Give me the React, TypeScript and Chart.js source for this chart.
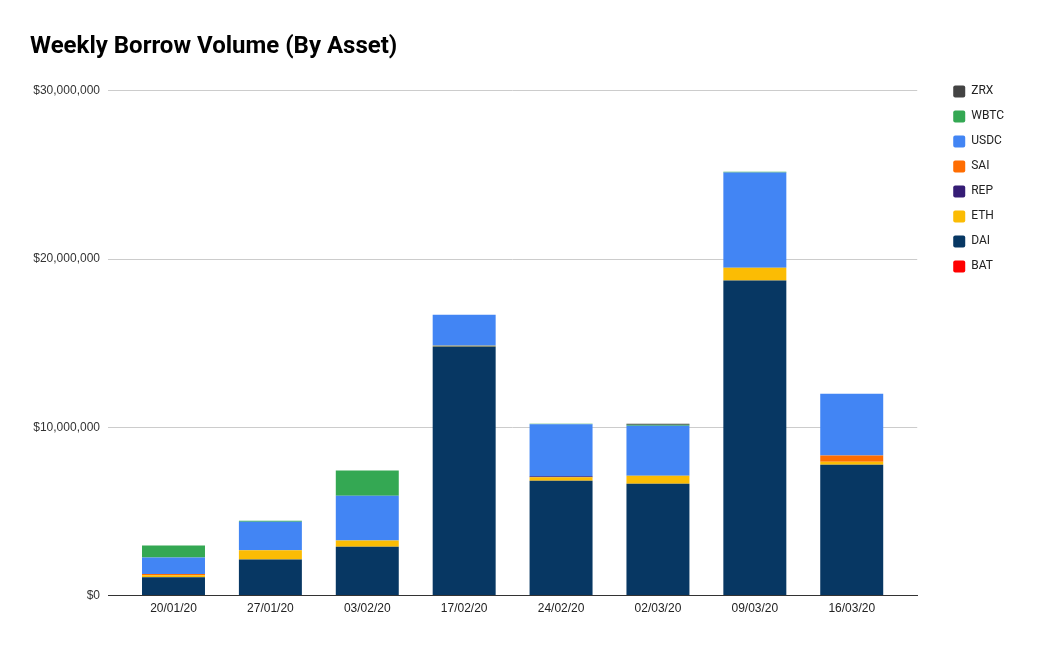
import React, { useEffect, useRef } from "react";
import { Chart, registerables, CategoryScale } from "chart.js";

class PaddedCategoryScale extends (CategoryScale as any) {
  static id = "paddedCategory";
  buildTicks() {
    const ticks = super.buildTicks();
    const extra = (this.options as any).edgePad || 0;
    this._startValue -= extra;
    this._valueRange += 2 * extra;
    return ticks;
  }
}

Chart.register(...registerables, PaddedCategoryScale as any);

const categories = ["20/01/20", "27/01/20", "03/02/20", "17/02/20", "24/02/20", "02/03/20", "09/03/20", "16/03/20"];

const BAT = [0, 40000, 0, 0, 0, 0, 0, 0];
const DAI = [1090000, 2100000, 2910000, 14810000, 6830000, 6650000, 18720000, 7780000];
const ETH = [120000, 550000, 360000, 40000, 200000, 480000, 770000, 180000];
const REP = [0, 0, 0, 0, 60000, 0, 0, 0];
const SAI = [80000, 0, 0, 0, 0, 0, 0, 360000];
const USDC = [970000, 1700000, 2670000, 1840000, 3090000, 2970000, 5660000, 3680000];
const WBTC = [710000, 60000, 1490000, 0, 40000, 60000, 40000, 0];
const ZRX = [0, 0, 0, 0, 0, 60000, 0, 0];

const yTicks = [0, 10000000, 20000000, 30000000];

const series = [
  { label: "BAT", data: BAT, color: "#ff0000" },
  { label: "DAI", data: DAI, color: "#073763" },
  { label: "ETH", data: ETH, color: "#fbbc04" },
  { label: "REP", data: REP, color: "#351c75" },
  { label: "SAI", data: SAI, color: "#ff6d01" },
  { label: "USDC", data: USDC, color: "#4285f4" },
  { label: "WBTC", data: WBTC, color: "#34a853" },
  { label: "ZRX", data: ZRX, color: "#434343" },
];

export default function App() {
  const ref = useRef<HTMLCanvasElement | null>(null);
  useEffect(() => {
    if (!ref.current) return;
    const chart = new Chart(ref.current, {
      type: "bar",
      data: {
        labels: categories,
        datasets: series.map((s) => ({
          label: s.label,
          data: s.data,
          backgroundColor: s.color,
          borderWidth: 0,
          barPercentage: 0.65,
          categoryPercentage: 1,
        })),
      },
      options: {
        animation: false,
        responsive: true,
        maintainAspectRatio: false,
        layout: { padding: { left: 22, right: 26, top: 10, bottom: 18 } },
        plugins: {
          tooltip: { enabled: false },
          title: {
            display: true,
            text: "Weekly Borrow Volume (By Asset)",
            align: "start",
            color: "#000",
            font: { family: "Roboto", size: 24, weight: "bold" },
            padding: { top: 15, bottom: 29 },
          },
          legend: {
            position: "right",
            align: "start",
            reverse: true,
            title: {
              display: true,
              text: " ",
              font: { family: "Roboto", size: 12 },
              padding: { top: 40, bottom: 0 },
            },
            labels: {
              boxWidth: 12,
              boxHeight: 12,
              padding: 13,
              useBorderRadius: true,
              borderRadius: 2,
              color: "#222",
              font: { family: "Roboto", size: 12 },
            },
          },
        },
        scales: {
          x: {
            type: "paddedCategory",
            edgePad: 0.176,
            offset: true,
            stacked: true,
            grid: { display: false, drawTicks: false, offset: true },
            border: { display: true, color: "#333", width: 1 },
            ticks: { color: "#222", font: { family: "Liberation Sans", size: 12 }, padding: 6 },
          },
          y: {
            stacked: true,
            min: 0,
            max: 30000000,
            afterBuildTicks: (s: any) => {
              s.ticks = yTicks.map((v) => ({ value: v }));
            },
            afterFit: (s: any) => {
              s.width = 78;
            },
            grid: {
              drawTicks: false,
              color: (c: any) => (c.tick && c.tick.value === 0 ? "#333" : "#cccccc"),
            },
            border: { display: false },
            ticks: {
              padding: 8,
              color: "#333",
              font: { family: "Liberation Sans", size: 12 },
              callback: (v: any) => "$" + Number(v).toLocaleString("en-US"),
            },
          },
          yR: {
            position: "right",
            display: true,
            grid: { display: false },
            border: { display: false },
            ticks: { display: false },
            afterFit: (s: any) => {
              s.width = 23;
            },
          },
        },
      } as any,
    });
    return () => chart.destroy();
  }, []);
  return (
    <div style={{ width: 1032, height: 632, position: "relative" }}>
      <canvas ref={ref} />
    </div>
  );
}
